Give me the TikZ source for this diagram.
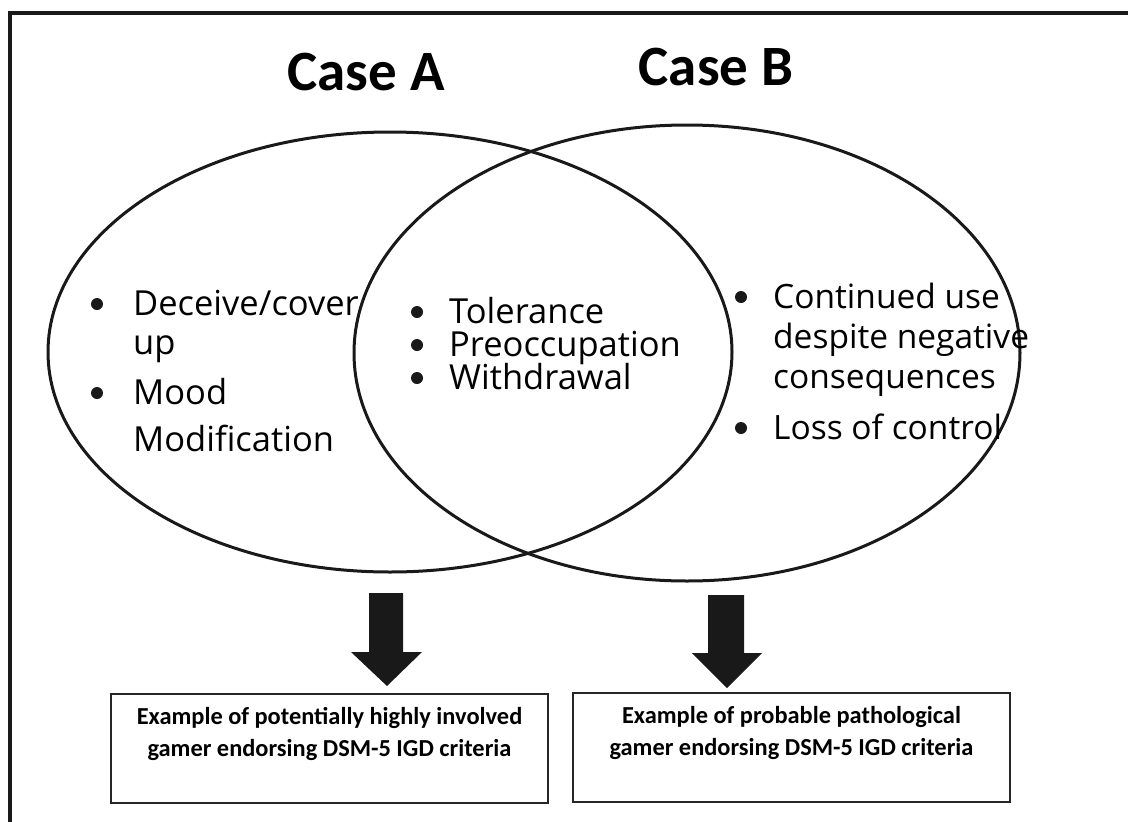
\documentclass[tikz,border=0pt]{standalone}
\usepackage{fontspec}
\setmainfont{Carlito}
\newfontfamily\bodyfont{Open Sans}
\begin{document}
\begin{tikzpicture}[x=1pt,y=-1pt,
  frame/.style={draw=black!90, line width=4pt},
  set/.style={draw=black!90, line width=3pt},
  title/.style={font=\fontsize{57}{66}\selectfont\bfseries, anchor=center},
  item/.style={font=\bodyfont\fontsize{34.5}{38}\selectfont, anchor=base west, inner sep=0pt},
  itemr/.style={font=\bodyfont\fontsize{33.5}{38}\selectfont, anchor=base west, inner sep=0pt},
  dot/.style={fill=black!90},
  bigarrow/.style={fill=black!90},
  result/.style={draw=black!85, line width=1.5pt, minimum width=437pt, minimum height=109pt, inner sep=0pt},
  restext/.style={font=\fontsize{24.4}{32}\selectfont\bfseries, align=center, anchor=center}]
\useasboundingbox (0,0) rectangle (1128,822);
\clip (0,0) rectangle (1128,822);
\draw[frame] (10,13) rectangle (1160,860);
% sets
\draw[set] (390,352) ellipse [x radius=342pt, y radius=220pt];
\draw[set] (687,353) ellipse [x radius=333pt, y radius=228pt];
% titles
\node[title] (tA) at (366,72) {Case A};
\node[title] (tB) at (716,67) {Case B};
% left list
\fill[dot] (97,304) circle (6pt);
\node[item] (a1) at (133,315) {Deceive/cover};
\node[item] (a2) at (133,354) {up};
\fill[dot] (97,393) circle (6pt);
\node[item] (a3) at (133,404) {Mood};
\node[item] (a4) at (133,451) {Modification};
% centre list
\fill[dot] (417,312) circle (6pt);
\node[item] (c1) at (449,323) {Tolerance};
\fill[dot] (417,345) circle (6pt);
\node[item] (c2) at (449,356) {Preoccupation};
\fill[dot] (417,378) circle (6pt);
\node[item] (c3) at (449,389) {Withdrawal};
% right list
\fill[dot] (741,297) circle (6pt);
\node[itemr] (b1) at (773,308) {Continued use};
\node[itemr] (b2) at (773,348) {despite negative};
\node[itemr] (b3) at (773,388) {consequences};
\fill[dot] (741,428) circle (6pt);
\node[itemr] (b4) at (773,439) {Loss of control};
% block arrows
\fill[bigarrow] (369,593) -- (403,593) -- (403,652) -- (422,652) -- (387,686) -- (351,652) -- (369,652) -- cycle;
\fill[bigarrow] (708,595) -- (744,595) -- (744,653) -- (762,653) -- (727,688) -- (692,653) -- (708,653) -- cycle;
% result boxes
\node[result] (rA) at (329.5,748.5) {};
\node[restext] at (329.5,734) {Example of potentially highly involved\\gamer endorsing DSM-5 IGD criteria};
\node[result] (rB) at (791.5,747.5) {};
\node[restext] at (791.5,733) {Example of probable pathological\\gamer endorsing DSM-5 IGD criteria};
\end{tikzpicture}
\end{document}
